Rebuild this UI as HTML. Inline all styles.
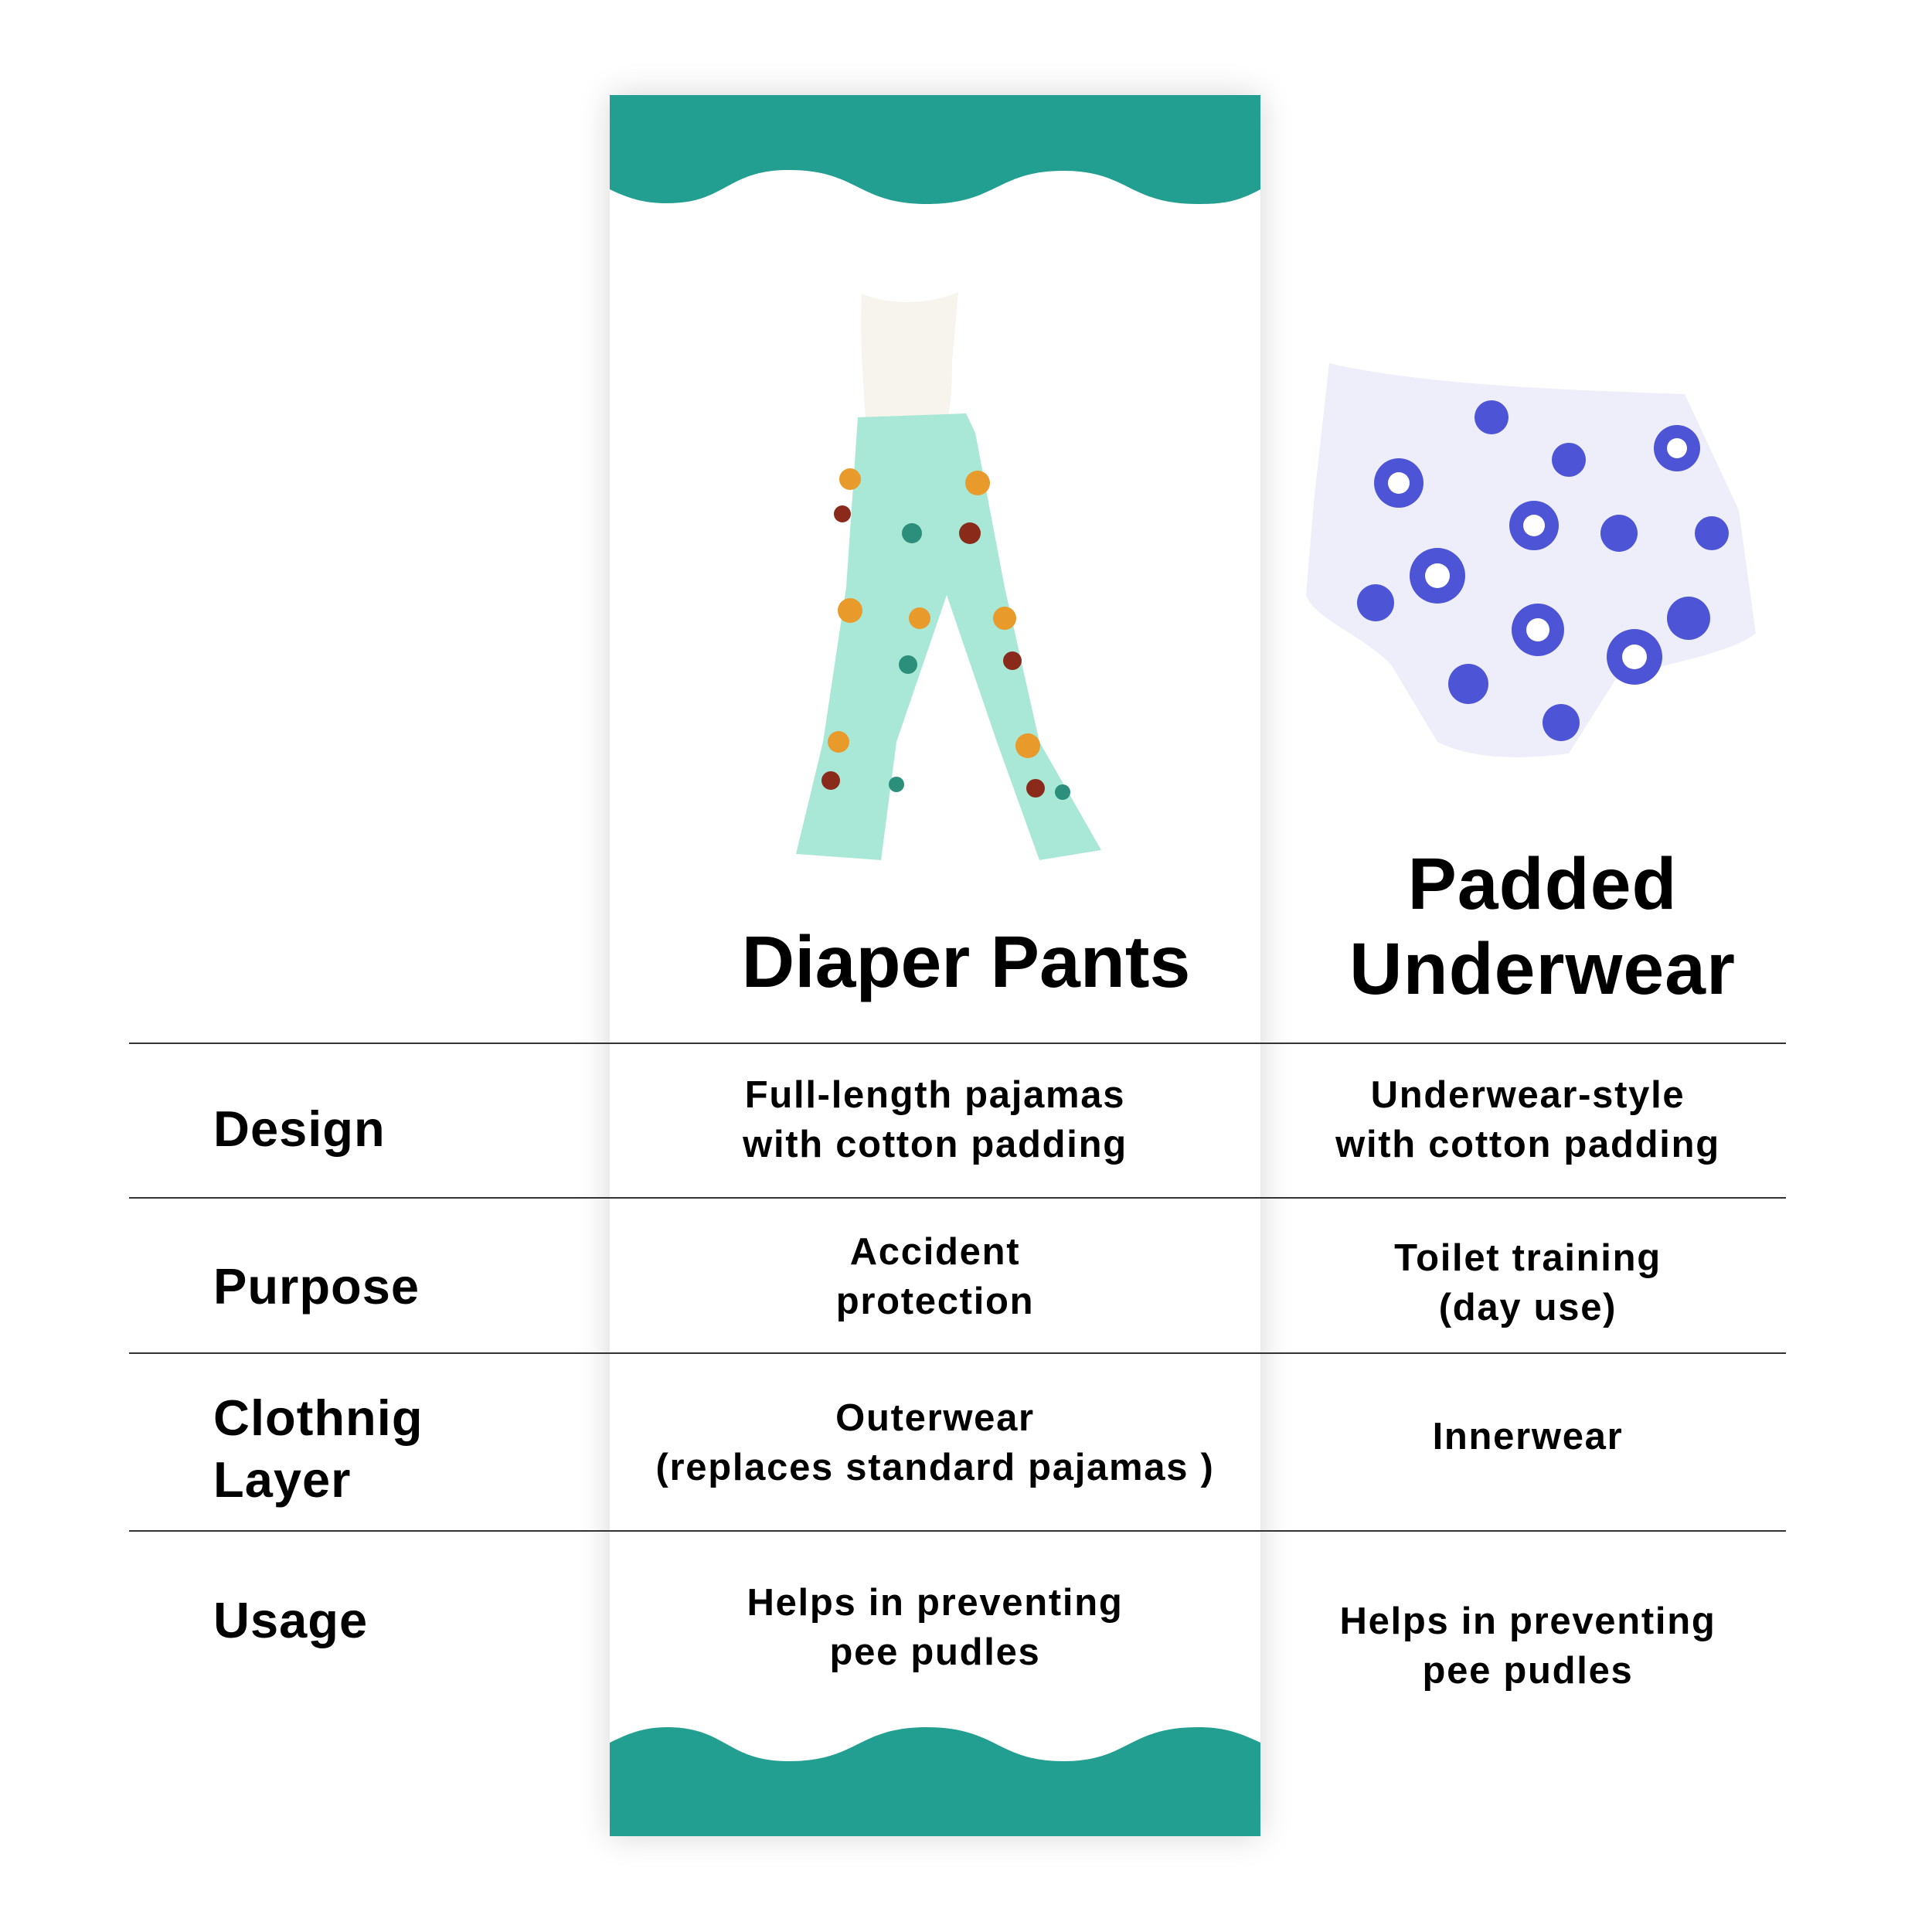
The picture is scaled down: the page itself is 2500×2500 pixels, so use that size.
<!DOCTYPE html>
<html><head><meta charset="utf-8"><style>
html,body{margin:0;padding:0;background:#fff}
body{width:2500px;height:2500px;position:relative;overflow:hidden;font-family:"Liberation Sans",Arial,sans-serif;font-weight:bold;color:#000}
.card{position:absolute;left:789px;top:123px;width:842px;height:2253px;background:#fff;box-shadow:0 0 40px rgba(0,0,0,.16)}
.line{position:absolute;left:167px;width:2144px;height:2px;background:#333}
.t{position:absolute;white-space:nowrap;line-height:1}
.lab{left:276px;font-size:65px;letter-spacing:1px}
.c{font-size:49px;letter-spacing:1.7px;text-align:center;width:900px;line-height:64px}
.c1{left:760px}.c2{left:1527px}
</style></head><body>
<div class="card"></div>
<svg style="position:absolute;left:0;top:0" width="2500" height="2500">
<path fill="#239f92" d="M789,123 H1631 V245 C1600,262 1580,264 1550,264 C1460,264 1460,221 1376,221 C1290,221 1290,264 1199,264 C1110,264 1110,220 1021,220 C940,220 940,263 863,263 C830,263 810,255 789,245 Z"/>
<path fill="#239f92" d="M789,2376 H1631 V2255 C1600,2240 1580,2235 1550,2235 C1460,2235 1460,2279 1376,2279 C1290,2279 1290,2235 1199,2235 C1110,2235 1110,2279 1021,2279 C940,2279 940,2235 863,2235 C830,2235 810,2245 789,2255 Z"/>
<!-- pants -->
<path fill="#f7f4ee" d="M1115,380 C1150,395 1200,395 1240,378 L1232,470 C1232,500 1230,530 1225,545 L1120,545 C1118,500 1112,450 1115,380 Z"/>
<path fill="#a9e8d6" d="M1110,540 L1250,535 L1262,560 L1300,760 L1345,960 L1425,1100 L1345,1113 L1290,960 L1225,770 L1160,960 L1140,1113 L1030,1105 L1065,960 L1095,760 Z"/>
<g fill="#e89a2a"><circle cx="1100" cy="620" r="14"/><circle cx="1265" cy="625" r="16"/><circle cx="1100" cy="790" r="16"/><circle cx="1300" cy="800" r="15"/><circle cx="1330" cy="965" r="16"/><circle cx="1085" cy="960" r="14"/><circle cx="1190" cy="800" r="14"/></g>
<g fill="#8a2a1a"><circle cx="1255" cy="690" r="14"/><circle cx="1090" cy="665" r="11"/><circle cx="1310" cy="855" r="12"/><circle cx="1075" cy="1010" r="12"/><circle cx="1340" cy="1020" r="12"/></g>
<g fill="#2b8f7c"><circle cx="1180" cy="690" r="13"/><circle cx="1175" cy="860" r="12"/><circle cx="1375" cy="1025" r="10"/><circle cx="1160" cy="1015" r="10"/></g>
<!-- underwear -->
<path fill="#eeeefa" d="M1720,470 C1850,500 2050,505 2180,510 L2250,660 L2272,820 C2230,850 2140,860 2090,880 L2030,975 C1960,985 1900,980 1860,960 L1800,860 C1760,820 1700,800 1690,770 L1700,650 Z"/>
<g fill="#4d55d6"><circle cx="1810" cy="625" r="32"/><circle cx="1930" cy="540" r="22"/><circle cx="2030" cy="595" r="22"/><circle cx="2170" cy="580" r="30"/><circle cx="1860" cy="745" r="36"/><circle cx="1985" cy="680" r="32"/><circle cx="2095" cy="690" r="24"/><circle cx="2215" cy="690" r="22"/><circle cx="1990" cy="815" r="34"/><circle cx="2115" cy="850" r="36"/><circle cx="2185" cy="800" r="28"/><circle cx="1900" cy="885" r="26"/><circle cx="2020" cy="935" r="24"/><circle cx="1780" cy="780" r="24"/></g>
<g fill="#fff"><circle cx="1810" cy="625" r="14"/><circle cx="1985" cy="680" r="14"/><circle cx="1860" cy="745" r="16"/><circle cx="1990" cy="815" r="15"/><circle cx="2115" cy="850" r="16"/><circle cx="2170" cy="580" r="13"/></g>
</svg>
<div class="line" style="top:1349px"></div>
<div class="line" style="top:1549px"></div>
<div class="line" style="top:1750px"></div>
<div class="line" style="top:1980px"></div>

<div class="t" style="left:850px;width:800px;text-align:center;top:1198px;font-size:95px">Diaper Pants</div>
<div class="t" style="left:1596px;width:800px;text-align:center;top:1089px;font-size:95px;line-height:110px;white-space:normal;letter-spacing:1px">Padded<br>Underwear</div>

<div class="t lab" style="top:1428px">Design</div>
<div class="t lab" style="top:1632px">Purpose</div>
<div class="t lab" style="top:1795px;line-height:80px">Clothnig<br>Layer</div>
<div class="t lab" style="top:2064px">Usage</div>

<div class="t c c1" style="top:1385px">Full-length pajamas<br>with cotton padding</div>
<div class="t c c2" style="top:1385px">Underwear-style<br>with cotton padding</div>
<div class="t c c1" style="top:1588px">Accident<br>protection</div>
<div class="t c c2" style="top:1596px">Toilet training<br>(day use)</div>
<div class="t c c1" style="top:1803px">Outerwear<br>(replaces standard pajamas )</div>
<div class="t c c2" style="top:1827px">Innerwear</div>
<div class="t c c1" style="top:2042px">Helps in preventing<br>pee pudles</div>
<div class="t c c2" style="top:2066px">Helps in preventing<br>pee pudles</div>
</body></html>
